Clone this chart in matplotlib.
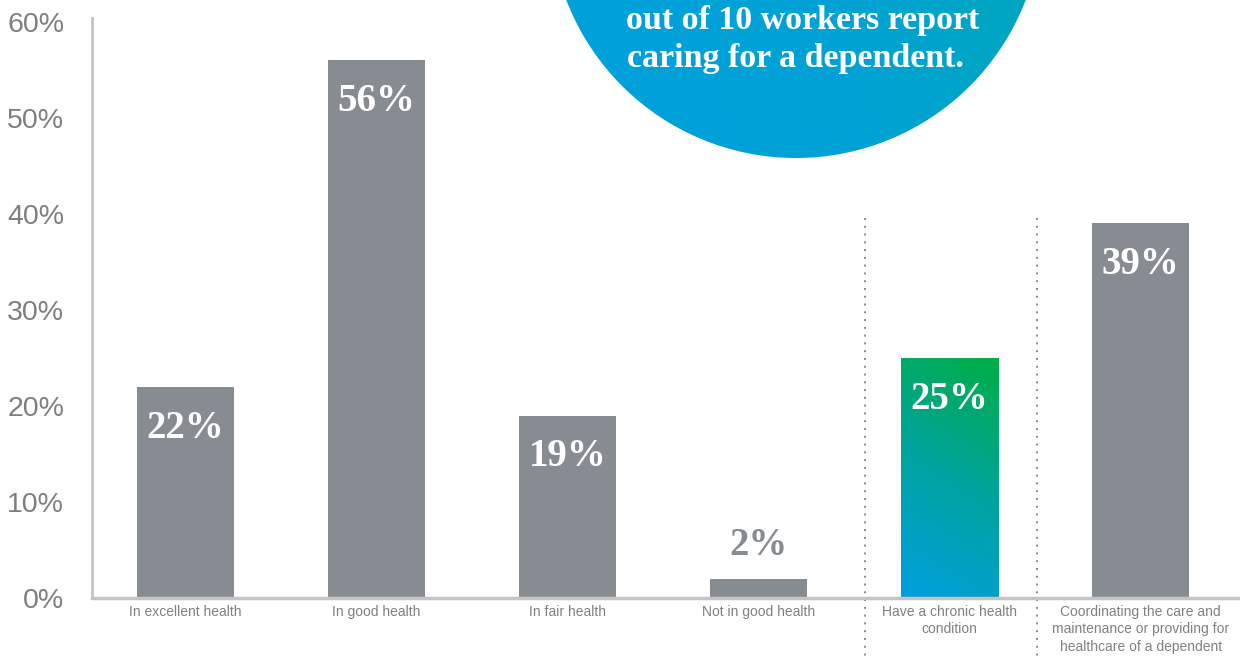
import numpy as np
import matplotlib.pyplot as plt
from matplotlib.colors import LinearSegmentedColormap
from matplotlib.patches import Circle

# Survey shares (%)
categories = ["In excellent health", "In good health", "In fair health",
              "Not in good health", "Have a chronic health\ncondition",
              "Coordinating the care and\nmaintenance or providing for\nhealthcare of a dependent"]
values = [22, 56, 19, 2, 25, 39]
yticks = [0, 10, 20, 30, 40, 50, 60]

grey = "#878c93"
fig = plt.figure(figsize=(12.4, 6.57), dpi=100)
ax = fig.add_axes([0.0742, 0.0898, 0.9258, 0.8828])

x = np.arange(len(values))
bars = ax.bar(x, values, width=0.51, color=grey, zorder=2)

# gradient fill for the chronic condition bar
grad_cmap = LinearSegmentedColormap.from_list("grn", ["#009fe0", "#00a3a0", "#00ae44"])
b = bars[4]
b.set_facecolor("none")
gx, gy = np.meshgrid(np.linspace(0, 1, 50), np.linspace(0, 1, 200))
g = 0.8 * gy + 0.2 * gx
bx0, bw, bh = b.get_x(), b.get_width(), b.get_height()
im = ax.imshow(g, cmap=grad_cmap, origin="lower", aspect="auto",
               extent=[bx0, bx0 + bw, 0, bh], zorder=2)
im.set_clip_path(b)

ax.set_xlim(-0.49, 5.52)
ax.set_ylim(0, 60.4)
ax.set_yticks(yticks)
ax.set_yticklabels([f"{v}%" for v in yticks])
ax.set_xticks(x)
ax.set_xticklabels(categories)
ax.tick_params(axis="y", length=0, pad=20, labelsize=20.5, labelcolor="#7f7f7f")
ax.tick_params(axis="x", length=0, pad=5, labelsize=10, labelcolor="#808080")
for lab in ax.get_yticklabels():
    lab.set_fontfamily("Liberation Sans")
for lab in ax.get_xticklabels():
    lab.set_fontfamily("Liberation Sans")
    lab.set_verticalalignment("top")
    lab.set_linespacing(1.3)

for s in ["top", "right"]:
    ax.spines[s].set_visible(False)
ax.spines["left"].set_color("#c4c4c4")
ax.spines["left"].set_linewidth(2)
ax.spines["bottom"].set_color("#c4c4c4")
ax.spines["bottom"].set_linewidth(2.5)
ax.spines["bottom"].set_zorder(3)

# value labels
for xi, v in zip(x, values):
    if v < 5:
        ax.text(xi, v + 3.5, f"{v}%", ha="center", va="center", color=grey,
                fontsize=28, fontweight="bold", family="Liberation Serif")
    else:
        ax.text(xi, v - 4.3, f"{v}%", ha="center", va="center", color="white",
                fontsize=28, fontweight="bold", family="Liberation Serif", zorder=4)

# dotted separators
for sx in [3.555, 4.455]:
    ax.plot([sx, sx], [39.6, -6.2], ls=(0, (1, 3)), color="#8a8a8a", lw=1.4,
            clip_on=False, zorder=1)

# callout circle in pixel space
ov = fig.add_axes([0, 0, 1, 1], zorder=5)
ov.set_xlim(0, 1240)
ov.set_ylim(657, 0)
ov.axis("off")
circ_cmap = LinearSegmentedColormap.from_list("blu", ["#00a0de", "#00a2d4", "#00a9b4"])
cx, cy, r = 796, -88, 246
circ = Circle((cx, cy), r, facecolor="none", edgecolor="none")
ov.add_patch(circ)
px, py = np.meshgrid(np.linspace(0, 1, 200), np.linspace(0, 1, 200))
cg = 0.75 * px + 0.25 * (1 - py)
cim = ov.imshow(cg, cmap=circ_cmap, origin="upper", aspect="auto",
                extent=[cx - r, cx + r, cy + r, cy - r], zorder=5)
cim.set_clip_path(circ)
ov.text(803, 21, "out of 10 workers report", ha="center", va="center",
        color="white", fontsize=24.5, fontweight="bold", family="Liberation Serif", zorder=6)
ov.text(795, 59, "caring for a dependent.", ha="center", va="center",
        color="white", fontsize=24.5, fontweight="bold", family="Liberation Serif", zorder=6)

plt.savefig("out.png", dpi=100)
